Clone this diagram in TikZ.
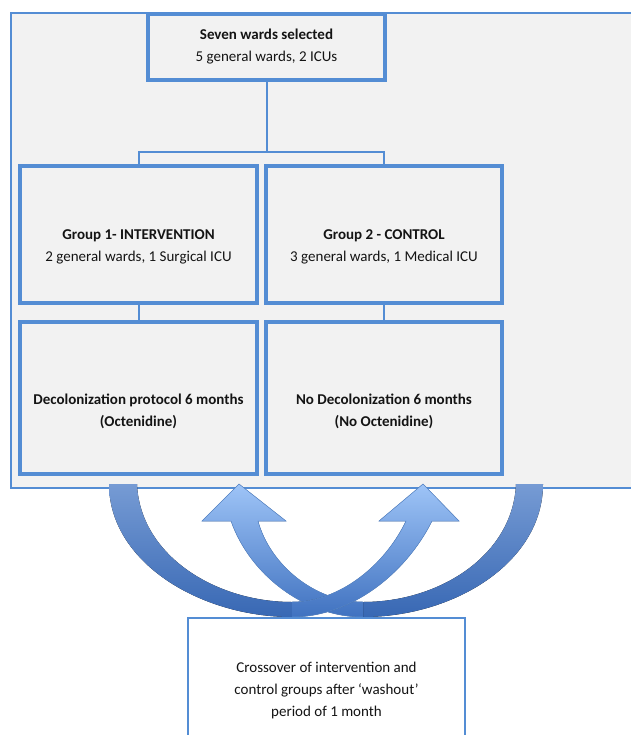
\documentclass[tikz,border=0pt]{standalone}
\usepackage{fontspec}
\setmainfont{Carlito}
\usetikzlibrary{shadows}
\definecolor{bord}{RGB}{84,141,212}
\definecolor{panel}{RGB}{242,242,242}
\definecolor{ink}{RGB}{20,20,20}
\definecolor{headtop}{RGB}{158,196,247}
\definecolor{headbot}{RGB}{64,114,192}
\definecolor{tailtop}{RGB}{118,155,212}
\definecolor{tailbot}{RGB}{56,104,180}
\definecolor{arrowedge}{RGB}{90,138,205}
\begin{document}
\begin{tikzpicture}[x=1pt,y=-1pt,
  box/.style={draw=bord, line width=4.5pt, fill=panel, inner sep=0pt,
    drop shadow={opacity=0.25, shadow xshift=1.5pt, shadow yshift=-2pt}},
  txt/.style={align=center, text=ink, font=\fontsize{15}{22}\selectfont, inner sep=0pt},
  link/.style={draw=bord, line width=2pt}]
\useasboundingbox (0,0) rectangle (630,735);
\fill[white] (0,0) rectangle (630,735);
% outer frame
\draw[draw=bord, line width=2pt, fill=panel] (11,13) rectangle (660,488);

% boxes
\node[box, minimum width=237pt, minimum height=66pt] (top) at (266.5,47) {};
\node[txt] (toptxt) at (266.5,47) {\textbf{Seven wards selected}\\5 general wards, 2 ICUs};

\node[box, minimum width=237pt, minimum height=137pt] (g1) at (138.5,234.5) {};
\node[txt] (g1txt) at (138.5,247) {\textbf{Group 1- INTERVENTION}\\2 general wards, 1 Surgical ICU};
\node[box, minimum width=236pt, minimum height=137pt] (g2) at (384,234.5) {};
\node[txt] (g2txt) at (384,247) {\textbf{Group 2 - CONTROL}\\3 general wards, 1 Medical ICU};

\node[box, minimum width=237pt, minimum height=152pt] (d1) at (138.5,398) {};
\node[txt] (d1txt) at (138.5,411) {\textbf{Decolonization protocol 6 months}\\\textbf{(Octenidine)}};
\node[box, minimum width=236pt, minimum height=152pt] (d2) at (384,398) {};
\node[txt] (d2txt) at (384,411) {\textbf{No Decolonization 6 months}\\\textbf{(No Octenidine)}};

% connectors
\coordinate (split) at (266.5,152);
\draw[link] (top.south) -- (split);
\draw[link] (split) -| (g1.north);
\draw[link] (split) -| (g2.north);
\draw[link] (g1.south) -- (d1.north);
\draw[link] (g2.south) -- (d2.north);

% curved crossover arrows
\fill[top color=tailtop, bottom color=tailbot]
  (109,484) .. controls (109,562) and (200,617) .. (292,617) -- (292,602)
  .. controls (215,602) and (140,555) .. (137,484) -- cycle;
\fill[top color=tailtop, bottom color=tailbot]
  (543,484) .. controls (543,562) and (455,617) .. (363,617) -- (363,602)
  .. controls (440,602) and (513,555) .. (516,484) -- cycle;
\fill[top color=headtop, bottom color=headbot]
  (363,617) .. controls (305,617) and (250,575) .. (231,521) -- (202,521) -- (239,484)
  -- (286,521) -- (258,521) .. controls (270,565) and (315,602) .. (363,602) -- cycle;
\draw[arrowedge, line width=0.5pt]
  (363,617) .. controls (305,617) and (250,575) .. (231,521) -- (202,521) -- (239,484)
  -- (286,521) -- (258,521) .. controls (270,565) and (315,602) .. (363,602);
\fill[top color=headtop, bottom color=headbot]
  (292,617) .. controls (350,617) and (405,575) .. (432,521) -- (459,521) -- (423,484)
  -- (379,521) -- (406,521) .. controls (385,565) and (340,602) .. (292,602) -- cycle;
\draw[arrowedge, line width=0.5pt]
  (292,617) .. controls (350,617) and (405,575) .. (432,521) -- (459,521) -- (423,484)
  -- (379,521) -- (406,521) .. controls (385,565) and (340,602) .. (292,602);

% crossover box
\node[draw=bord, line width=2.5pt, fill=white, inner sep=0pt,
  minimum width=277pt, minimum height=142pt] (cross) at (326.5,689) {};
\node[txt] (crosstxt) at (326.5,690) {Crossover of intervention and\\control groups after ‘washout’\\period of 1 month};
\end{tikzpicture}
\end{document}
